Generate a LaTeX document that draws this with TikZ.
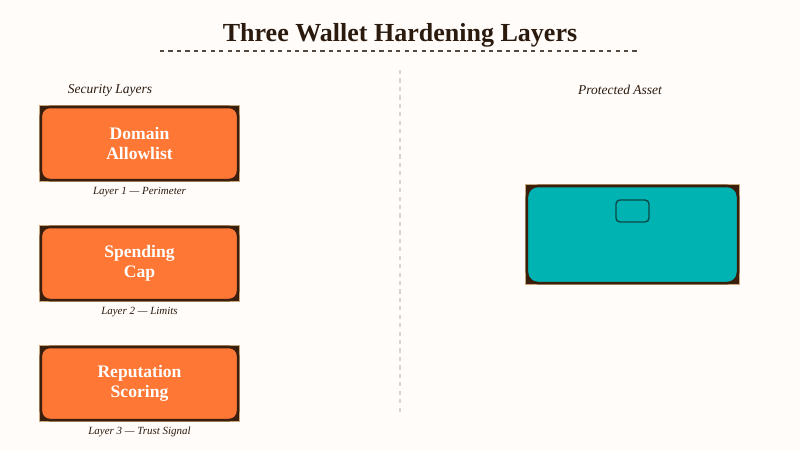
\documentclass[tikz,border=0pt]{standalone}
\usepackage{fontspec}
\setmainfont{Liberation Serif}
\usetikzlibrary{positioning,backgrounds}
\definecolor{paper}{HTML}{FFFCFA}
\definecolor{ink}{HTML}{2B1A0E}
\definecolor{edge}{HTML}{3A1F0E}
\definecolor{tan}{HTML}{C9A97E}
\definecolor{flame}{HTML}{FF7735}
\definecolor{teal}{HTML}{00B3B3}
\definecolor{deepteal}{HTML}{0B4A47}
\definecolor{divider}{HTML}{DCD2CE}

\begin{document}
\begin{tikzpicture}[x=0.025cm, y=-0.025cm,
    layer/.style={rectangle, rounded corners=0.22cm, fill=flame, draw=edge, line width=1.8pt,
      minimum width=4.925cm, minimum height=1.825cm, text=white, align=center,
      font=\fontsize{12.5}{14.2}\selectfont\bfseries},
    caption/.style={font=\fontsize{7.8}{9}\selectfont\itshape, text=ink, inner sep=1pt},
    heading/.style={font=\fontsize{9.6}{11}\selectfont\itshape, text=ink},
    corner/.style={fill=edge, draw=tan, line width=0.4pt}]
      \useasboundingbox (0,0) rectangle (800,450);

      \node[font=\fontsize{18.5}{22}\selectfont\bfseries, text=ink] (title) at (400,35) {Three Wallet Hardening Layers};
      \draw[ink!80, dashed, line width=0.8pt] (160,51) -- (640,51);
      \draw[divider, dashed, line width=1.4pt] (400,70) -- (400,415);

      \node[heading] (left) at (110,90) {Security Layers};
      \node[heading] (right) at (620,90) {Protected Asset};

      \node[layer] (l1) at (139.5,143.5) {Domain\\Allowlist};
      \node[layer] (l2) at (139.5,263.5) {Spending\\Cap};
      \node[layer] (l3) at (139.5,383.5) {Reputation\\Scoring};

      \node[caption, below=0.1cm of l1] (c1) {Layer 1 --- Perimeter};
      \node[caption, below=0.1cm of l2] (c2) {Layer 2 --- Limits};
      \node[caption, below=0.1cm of l3] (c3) {Layer 3 --- Trust Signal};

      \node[rectangle, rounded corners=0.27cm, fill=teal, draw=edge, line width=1.8pt,
        minimum width=5.275cm, minimum height=2.425cm] (wallet) at (632.5,234.5) {};
      \node[rectangle, rounded corners=0.1cm, draw=deepteal, line width=1pt,
        minimum width=0.825cm, minimum height=0.55cm] (chip) at (632.5,211) {};

      \begin{scope}[on background layer]
        \fill[paper] (0,0) rectangle (800,450);
        \foreach \b in {l1,l2,l3,wallet}
          \draw[corner] (\b.north west) rectangle (\b.south east);
      \end{scope}
    \end{tikzpicture}
\end{document}
